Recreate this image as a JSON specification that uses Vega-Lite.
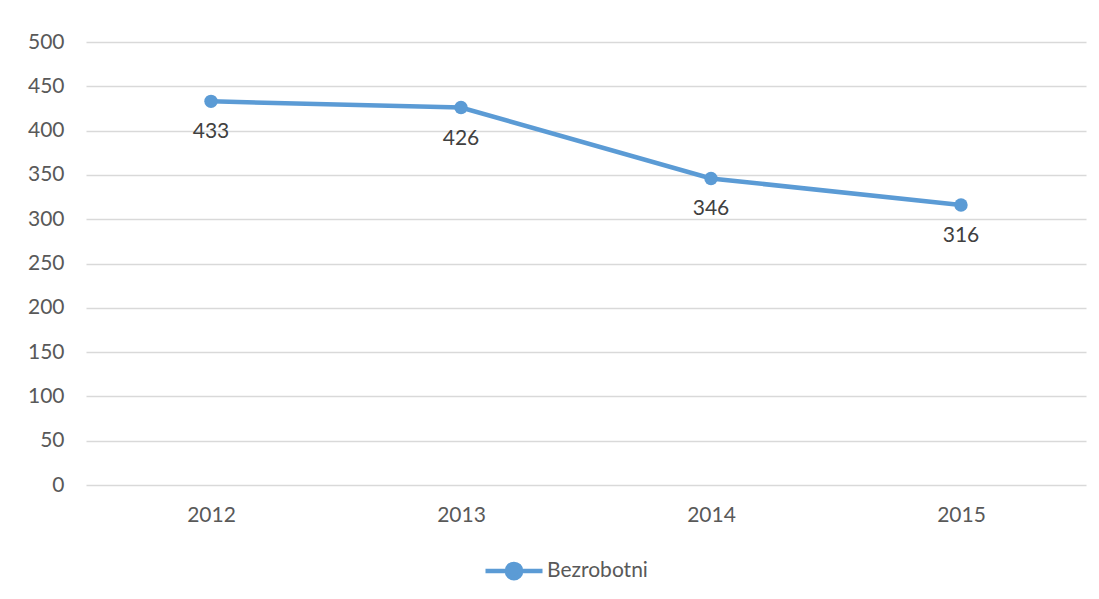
{
  "$schema": "https://vega.github.io/schema/vega-lite/v6.json",
  "width": 1000,
  "height": 443,
  "autosize": {"type": "none"},
  "padding": {"left": 86, "top": 42, "right": 13, "bottom": 114},
  "background": "white",
  "config": {
    "font": "Lato",
    "view": {"stroke": null},
    "axis": {"labelFont": "Lato", "labelFontSize": 21, "labelColor": "#595959", "gridColor": "#D9D9D9", "gridWidth": 1.5, "domain": false, "ticks": false}
  },
  "data": {"values": [
    {"year": "2012", "value": 433, "series": "Bezrobotni"},
    {"year": "2013", "value": 426, "series": "Bezrobotni"},
    {"year": "2014", "value": 346, "series": "Bezrobotni"},
    {"year": "2015", "value": 316, "series": "Bezrobotni"}
  ]},
  "encoding": {
    "x": {"field": "year", "type": "nominal", "scale": {"type": "point", "padding": 0.5}, "axis": {"title": null, "labelAngle": 0, "labelPadding": 19, "grid": false}},
    "y": {"field": "value", "type": "quantitative", "scale": {"domain": [0, 500]}, "axis": {"title": null, "values": [0,50,100,150,200,250,300,350,400,450,500], "labelPadding": 22}}
  },
  "layer": [
    {
      "mark": {"type": "line", "strokeWidth": 4.5, "color": "#5B9BD5"},
      "encoding": {"color": {"field": "series", "type": "nominal", "scale": {"range": ["#5B9BD5"]}, "legend": {"title": null, "orient": "none", "legendX": 397, "legendY": 498, "labelFontSize": 21, "labelColor": "#595959", "labelFont": "Lato", "symbolType": "M-1,0L1,0M-0.25,0A0.25,0.25,0,1,0,0.25,0A0.25,0.25,0,1,0,-0.25,0Z", "symbolSize": 3249, "symbolStrokeWidth": 4.5, "symbolFillColor": "#5B9BD5", "symbolStrokeColor": "#5B9BD5", "labelOffset": 2}}}
    },
    {
      "mark": {"type": "point", "filled": true, "size": 180, "opacity": 1, "color": "#5B9BD5"}
    },
    {
      "mark": {"type": "text", "dy": 31, "fontSize": 21, "color": "#404040", "font": "Lato"},
      "encoding": {"text": {"field": "value", "type": "quantitative"}}
    }
  ]
}
